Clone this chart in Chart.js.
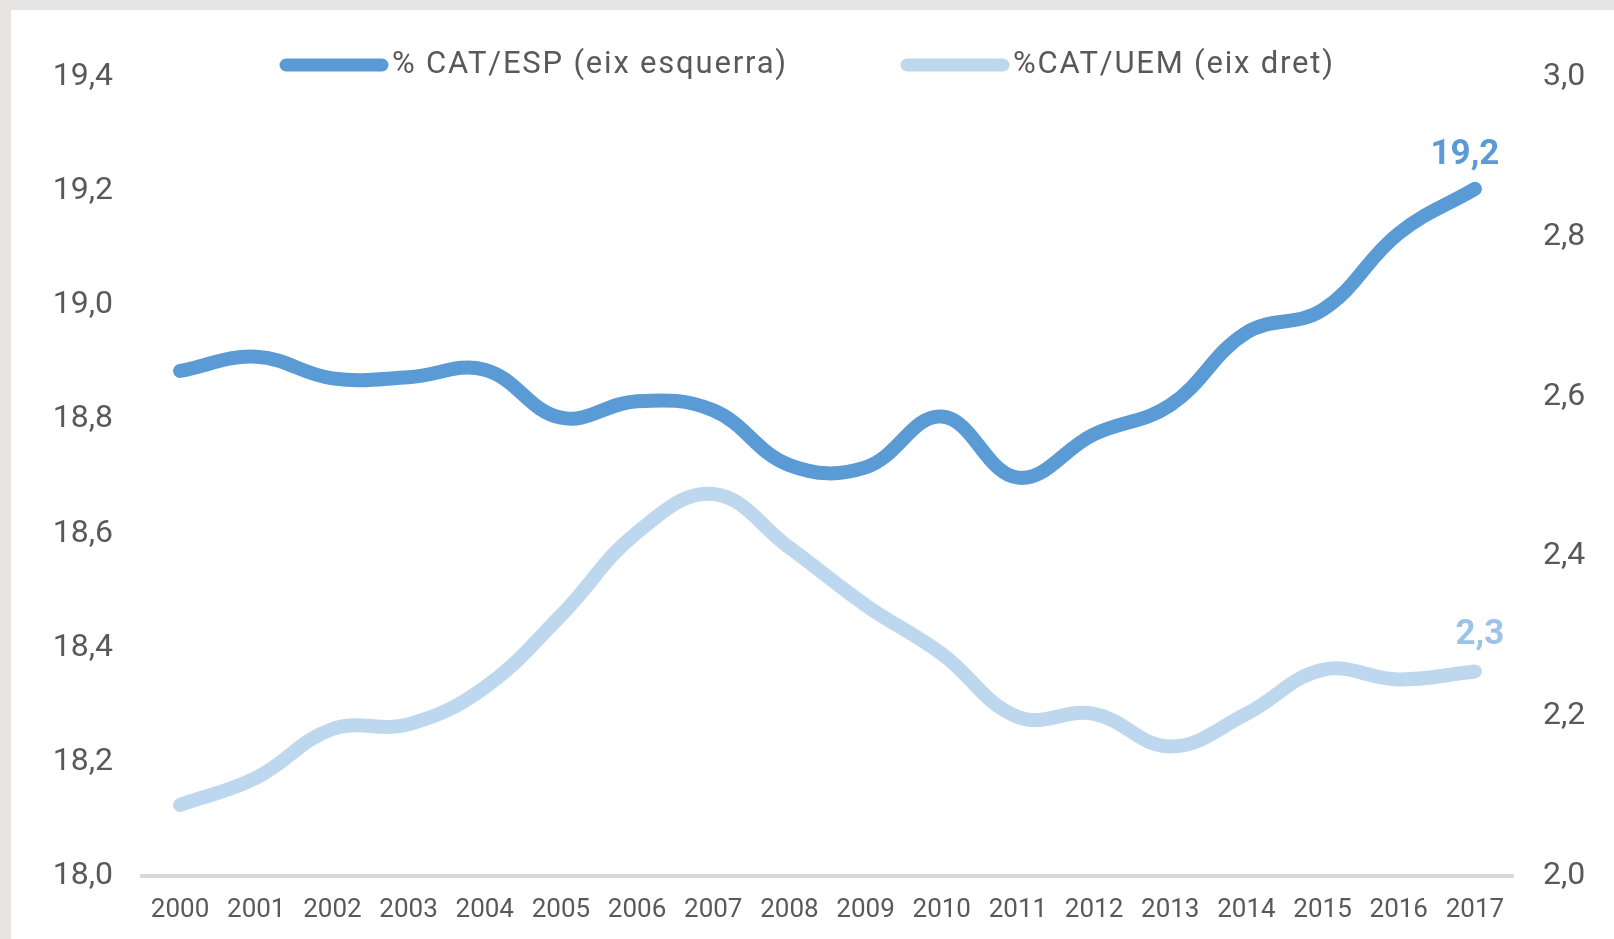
<!DOCTYPE html>
<html>
<head>
<meta charset="utf-8">
<script src="https://cdn.jsdelivr.net/npm/chart.js@4.4.0/dist/chart.umd.min.js"></script>
<style>
  html, body { margin: 0; padding: 0; background: #e6e5e3; overflow: hidden; }
  #panel { position: absolute; left: 11px; top: 10px; width: 1603px; height: 929px; background: #fff; }
  canvas { display: block; }
</style>
</head>
<body>
<div id="panel"><canvas id="myChart" width="1603" height="929"></canvas></div>
<script>
var years = ['2000', '2001', '2002', '2003', '2004', '2005', '2006', '2007', '2008',
             '2009', '2010', '2011', '2012', '2013', '2014', '2015', '2016', '2017'];

// % CAT/ESP, left axis
var catEsp = [18.885, 18.91, 18.872, 18.874, 18.887, 18.803, 18.832, 18.816, 18.72,
              18.716, 18.805, 18.698, 18.774, 18.825, 18.952, 18.992, 19.126, 19.204];

// % CAT/UEM, right axis
var catUem = [2.089, 2.123, 2.184, 2.19, 2.236, 2.326, 2.43, 2.478, 2.411,
              2.339, 2.278, 2.199, 2.203, 2.162, 2.203, 2.258, 2.246, 2.256];

var leftTicks = [18.0, 18.2, 18.4, 18.6, 18.8, 19.0, 19.2, 19.4];
var rightTicks = [2.0, 2.2, 2.4, 2.6, 2.8, 3.0];

var seriesNames = ['% CAT/ESP (eix esquerra)', '%CAT/UEM (eix dret)'];

var textGray = '#595959';
var darkBlue = '#5b9bd5';
var lightBlue = '#bdd7ee';

function fmt(v) {
    return v.toFixed(1).replace('.', ',');
}

// end-of-line value labels + legend drawn over the plot
var extras = {
    id: 'extras',
    afterDatasetsDraw: function(chart) {
        var ctx = chart.ctx;
        chart.data.datasets.forEach(function(ds, i) {
            var meta = chart.getDatasetMeta(i);
            var pt = meta.data[meta.data.length - 1];
            ctx.save();
            ctx.font = 'bold 35px Roboto';
            ctx.fillStyle = ds.labelColor;
            ctx.textAlign = 'center';
            ctx.textBaseline = 'middle';
            ctx.fillText(fmt(ds.data[ds.data.length - 1]), pt.x + ds.labelDx, pt.y + ds.labelDy);
            ctx.restore();
        });

        // legend
        var legendX = [269, 890];
        var legendY = 55;
        chart.data.datasets.forEach(function(ds, i) {
            var x = legendX[i];
            ctx.save();
            ctx.strokeStyle = ds.borderColor;
            ctx.lineWidth = 13;
            ctx.lineCap = 'round';
            ctx.beginPath();
            ctx.moveTo(x + 6, legendY);
            ctx.lineTo(x + 102, legendY);
            ctx.stroke();
            ctx.font = '31px Roboto';
            ctx.letterSpacing = '1.8px';
            ctx.fillStyle = textGray;
            ctx.textAlign = 'left';
            ctx.textBaseline = 'middle';
            ctx.fillText(ds.label, x + 112, legendY);
            ctx.restore();
        });
    }
};

var chartdata = {
    labels: years,
    datasets: [
        {
            label: seriesNames[0],
            data: catEsp,
            yAxisID: 'y',
            borderColor: darkBlue,
            backgroundColor: darkBlue,
            borderWidth: 14,
            borderCapStyle: 'round',
            borderJoinStyle: 'round',
            pointRadius: 0,
            tension: 0.4,
            labelColor: darkBlue,
            labelDx: -10,
            labelDy: -34
        },
        {
            label: seriesNames[1],
            data: catUem,
            yAxisID: 'y1',
            borderColor: lightBlue,
            backgroundColor: lightBlue,
            borderWidth: 14,
            borderCapStyle: 'round',
            borderJoinStyle: 'round',
            pointRadius: 0,
            tension: 0.4,
            labelColor: '#9dc3e6',
            labelDx: 5,
            labelDy: -36
        }
    ]
};

var myChart = new Chart(document.getElementById('myChart'), {
    type: 'line',
    data: chartdata,
    plugins: [extras],
    options: {
        responsive: false,
        devicePixelRatio: 1,
        animation: false,
        layout: { padding: { top: 67, left: 0, right: 0, bottom: 0 } },
        plugins: {
            legend: { display: false },
            tooltip: { enabled: false }
        },
        scales: {
            x: {
                offset: true,
                grid: { display: false, drawTicks: false },
                border: { display: true, color: '#d9d9d9', width: 4 },
                ticks: {
                    color: textGray,
                    font: { family: 'Roboto', size: 26 },
                    padding: 19,
                    maxRotation: 0,
                    autoSkip: false
                },
                afterFit: function(scale) { scale.height = 63; }
            },
            y: {
                position: 'left',
                min: leftTicks[0],
                max: leftTicks[leftTicks.length - 1],
                grid: { display: false, drawTicks: false },
                border: { display: false },
                afterBuildTicks: function(scale) {
                    scale.ticks = leftTicks.map(function(v) { return { value: v }; });
                },
                ticks: {
                    color: textGray,
                    font: { family: 'Roboto', size: 32 },
                    padding: 29,
                    callback: function(v) { return fmt(v); }
                },
                afterFit: function(scale) { scale.width = 131; }
            },
            y1: {
                position: 'right',
                min: rightTicks[0],
                max: rightTicks[rightTicks.length - 1],
                grid: { display: false, drawTicks: false },
                border: { display: false },
                afterBuildTicks: function(scale) {
                    scale.ticks = rightTicks.map(function(v) { return { value: v }; });
                },
                ticks: {
                    color: textGray,
                    font: { family: 'Roboto', size: 32 },
                    padding: 30,
                    callback: function(v) { return fmt(v); }
                },
                afterFit: function(scale) { scale.width = 101; }
            }
        }
    }
});
</script>
</body>
</html>
